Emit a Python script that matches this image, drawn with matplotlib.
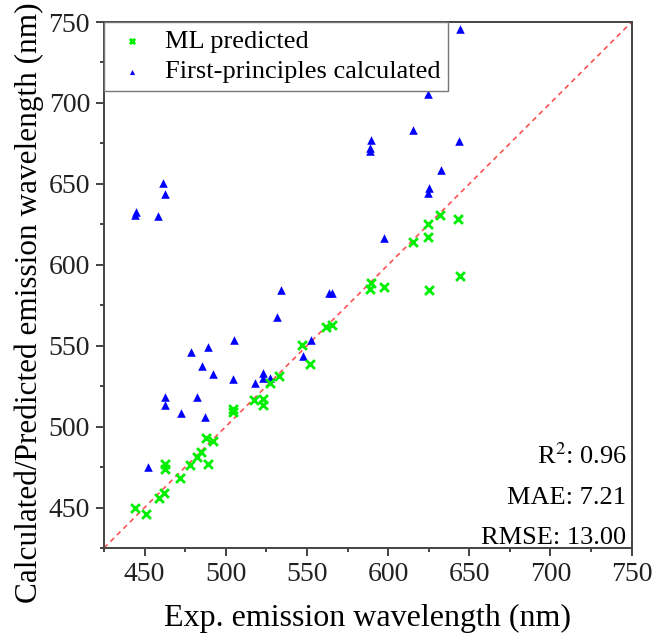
import numpy as np
import matplotlib
matplotlib.use("Agg")
import matplotlib.pyplot as plt
from matplotlib.ticker import MultipleLocator

plt.rcParams['font.family'] = ['Liberation Serif', 'DejaVu Serif']
plt.rcParams['mathtext.fontset'] = 'stix'

# ML predicted (exp, predicted)
ml_exp = [444, 451, 459, 462, 462.7, 462.7, 472, 478, 482, 484.5, 489, 488, 492,
          504.6, 504.6, 517.5, 523, 523, 527, 533, 547, 552, 561.6, 565.7,
          589.7, 588.7, 597.5, 625, 615.4, 624.6, 624.6, 632, 643, 644.5]
ml_pred = [450, 446, 456, 459, 477, 474, 468, 476, 481, 484.5, 477, 493, 491,
           510.7, 509.2, 516.5, 517, 513.4, 527, 531, 550.5, 539, 561.8, 562.8,
           589, 585, 586, 584.5, 614.3, 617, 625, 631, 628, 593]

# First-principles calculated (exp, calculated)
fp_exp = [444.7, 444, 458.4, 461.5, 462.7, 451.9, 462.7, 462.7, 472.4, 478.3,
          482.4, 485.3, 487.3, 489.2, 491.9, 504.2, 505.2, 518, 523, 523, 527,
          531.3, 533.9, 547.3, 552.2, 563.7, 565.7, 589.7, 589, 589, 597.5,
          615.4, 624.6, 625.2, 624.6, 632.4, 643.5, 644.5]
fp_calc = [632.5, 631, 630.4, 650.8, 643.8, 475.2, 518.1, 513.4, 508.6, 546.1,
           518.5, 537.5, 505.8, 549.4, 532.5, 529.4, 553.6, 526.8, 533, 530, 530,
           568, 584.5, 543.7, 553.6, 582.8, 582.8, 677, 672, 670, 616.8,
           683, 705.4, 647.7, 644.6, 658.6, 676.7, 745.6]

stats_lines = ['R$^2$: 0.96', 'MAE: 7.21', 'RMSE: 13.00']

fig = plt.figure(figsize=(6.58, 6.42), dpi=100)
ax = fig.add_axes([0.158, 0.1464, 0.802, 0.8193])

lim = (425, 750)
ax.plot(lim, lim, linestyle=(0, (3, 2.5)), color='#ff5050', linewidth=1.2, zorder=1)

ax.scatter(ml_exp, ml_pred, marker='x', s=40, color='#00ee00', linewidths=2,
           label='ML predicted', zorder=3)
ax.scatter(fp_exp, fp_calc, marker='^', s=38, color='#0000ff', linewidths=0,
           label='First-principles calculated', zorder=2)

ax.set_xlim(lim)
ax.set_ylim(lim)
ax.xaxis.set_minor_locator(MultipleLocator(25))
ax.yaxis.set_minor_locator(MultipleLocator(25))
ax.set_xticks(np.arange(450, 751, 50))
ax.set_yticks(np.arange(450, 751, 50))
ax.tick_params(which='major', direction='out', length=6, width=1.2, labelsize=20,
               colors='#222222', pad=4)
ax.tick_params(which='minor', direction='out', length=3, width=1.2, colors='#222222')
for s in ax.spines.values():
    s.set_linewidth(1.4)
    s.set_color('#444444')

ax.set_xlabel('Exp. emission wavelength (nm)', fontsize=23, labelpad=12)
ax.set_ylabel('Calculated/Predicted emission wavelength (nm)', fontsize=22.5, labelpad=3)
ax.yaxis.label.set_y(0.466)

leg = ax.legend(loc='upper left', fontsize=19, frameon=True, fancybox=False,
                edgecolor='#777777', borderaxespad=0.0, handletextpad=0.5,
                borderpad=0.3, labelspacing=0.25, markerscale=0.6,
                handlelength=1.5, framealpha=1.0)
leg.get_frame().set_linewidth(1.0)

for i, t in enumerate(stats_lines):
    ax.text(0.99, 0.15 - i * 0.076, t, transform=ax.transAxes, ha='right',
            va='bottom', fontsize=19)

fig.savefig('out.png', dpi=100)
